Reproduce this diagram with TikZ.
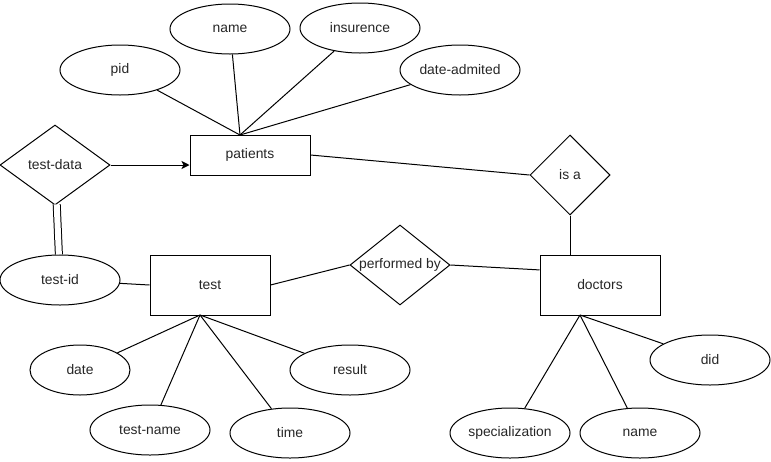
\documentclass[tikz,border=0pt]{standalone}
\usepackage{fontspec}
\setmainfont{Liberation Sans}
\usetikzlibrary{calc,shapes.geometric,arrows.meta}

\begin{document}
\begin{tikzpicture}[x=0.75pt, y=-0.75pt, line width=0.75pt,
	every node/.style={font=\fontsize{10.4}{12}\selectfont, text=black!85},
	attr/.style={draw, ellipse, minimum width=90pt, minimum height=37.5pt, inner sep=0pt},
	entity/.style={draw, rectangle, minimum width=90pt, minimum height=#1, inner sep=0pt},
	rel/.style={draw, diamond, inner sep=0pt}]
			%%%%% START %%%%%
			\useasboundingbox (0, 0) rectangle (771, 461);
			
			\node[entity=30pt] (pat) at (250, 155) {patients};
			\node[entity=45pt] (test) at (210, 285) {test};
			\node[entity=45pt] (doc) at (600, 285) {doctors};
			
			\node[rel, minimum width=82.5pt, minimum height=60pt] (tdata) at (55, 165) {test-data};
			\node[rel, minimum width=60pt, minimum height=60pt] (isa) at (570, 175) {is a};
			\node[rel, minimum width=75pt, minimum height=60pt, shape aspect=1.25] (perf) at (400, 265) {performed by};
			
			\coordinate (ptop) at (240, 135);
			\coordinate (tbot) at (200, 315);
			\coordinate (dbot) at (580, 315);
			
			\node[attr] (pid) at (120, 70) {pid};
			\node[attr] (pname) at (230, 29) {name};
			\node[attr] (ins) at (360, 28) {insurence};
			\node[attr] (dadm) at (460, 70) {date-admited};
			
			\node[attr] (tid) at (60, 280) {test-id};
			\node[attr, minimum width=75pt] (tdate) at (80, 370) {date};
			\node[attr] (tname) at (150, 430) {test-name};
			\node[attr] (time) at (290, 433) {time};
			\node[attr] (res) at (350, 370) {result};
			
			\node[attr] (did) at (710, 360) {did};
			\node[attr] (spec) at (510, 433) {specialization};
			\node[attr] (dname) at (640, 433) {name};
			
			% patients
			\draw (pid) -- (ptop);
			\draw (pname) -- (ptop);
			\draw (ins) -- (ptop);
			\draw (dadm) -- (ptop);
			\draw[-{Stealth[length=6pt, width=6pt, inset=1.5pt]}] (tdata.east) -- (tdata.east -| pat.west);
			\draw (pat.east) -- (isa.west);
			\draw (isa.south) -- (isa.south |- doc.north);
			
			% test
			\draw[double, double distance=4.5pt] (tdata) -- (tid);
			\draw (tid) -- (test.west);
			\draw (test.east) -- (perf.west);
			\draw (perf.east) -- (doc.166);
			\foreach \a in {tdate, tname, time, res}
				\draw (\a) -- (tbot);
			
			% doctors
			\foreach \a in {did, spec, dname}
				\draw (\a) -- (dbot);
			%%%%% END %%%%%
\end{tikzpicture}
\end{document}
